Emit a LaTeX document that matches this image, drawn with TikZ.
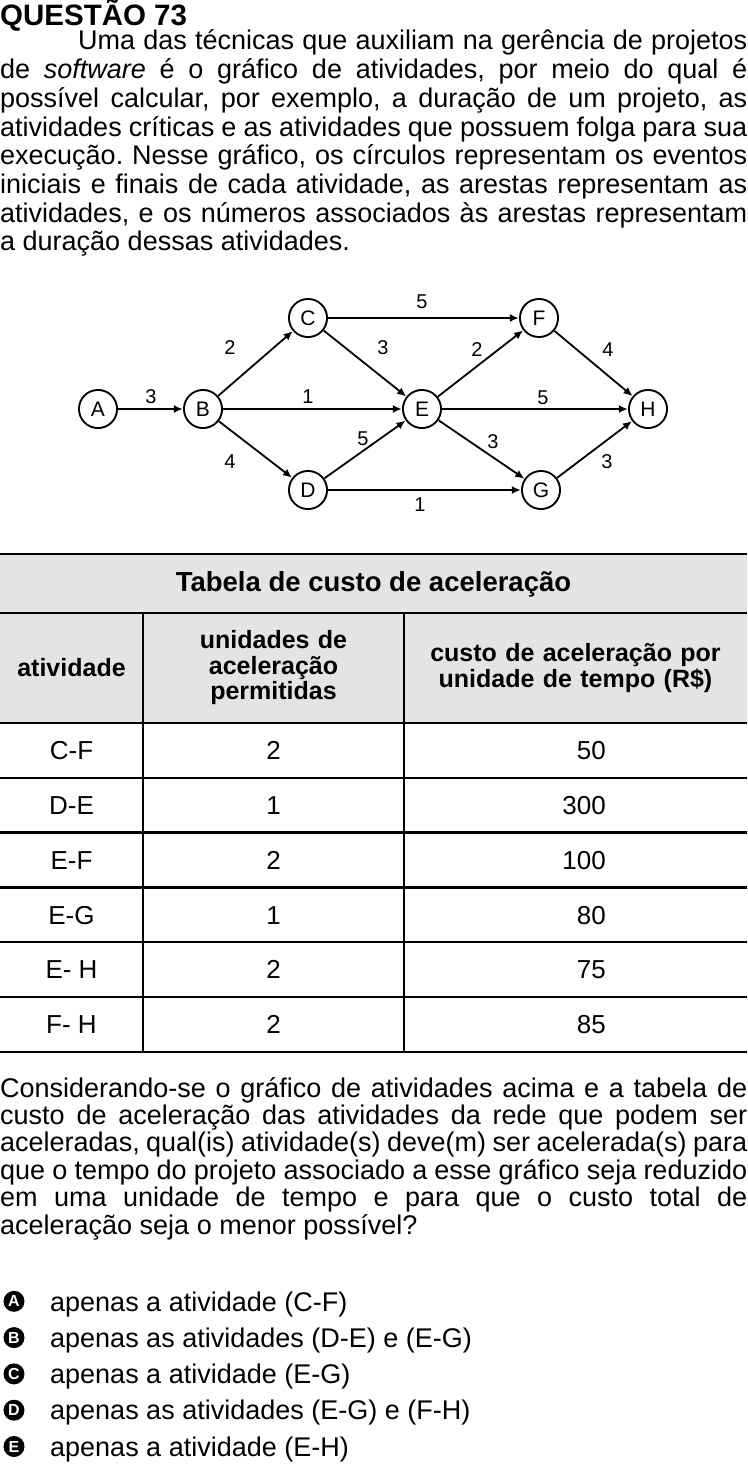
\documentclass[tikz,border=0pt]{standalone}
\usepackage{fontspec}
\setmainfont{Liberation Sans}
\usetikzlibrary{calc,arrows.meta}
\definecolor{cinza}{RGB}{228,228,228}

\tikzset{
  evento/.style={circle, fill=black, minimum size=40pt, inner sep=0pt},
  miolo/.style={circle, fill=white, minimum size=36pt, inner sep=0pt,
                font=\fontsize{21}{21}\selectfont},
  aresta/.style={line width=1.8pt, -{Latex[length=9pt,width=8pt]}},
  rotulo/.style={inner sep=0pt, font=\fontsize{20}{20}\selectfont},
  corpo/.style={anchor=base west, inner sep=0pt, text width=747pt, align=justify,
                font=\fontsize{27}{27.4}\selectfont},
  celula/.style={anchor=base, inner sep=0pt, font=\fontsize{26}{26}\selectfont},
  cabec/.style={inner sep=0pt, align=center, font=\bfseries\fontsize{25}{25}\selectfont},
  letra/.style={circle, fill=black, inner sep=0pt, minimum size=21pt, text=white,
                font=\bfseries\fontsize{16}{16}\selectfont},
  opcao/.style={anchor=base west, inner sep=0pt, font=\fontsize{27}{27}\selectfont},
}
\newcommand{\semquebra}{\frenchspacing\tolerance=10000\hyphenpenalty=10000\exhyphenpenalty=10000}

\begin{document}
\begin{tikzpicture}[x=1pt, y=-1pt]
    \useasboundingbox (0,0) rectangle (747,1466); % page size of the reference

    % enunciado
    \node[anchor=base west, inner sep=0pt, font=\bfseries\fontsize{29.5}{29.5}\selectfont]
        (titulo) at (0,26) {QUESTÃO 73};
    \node[corpo, font=\fontsize{27}{28.7}\selectfont] (texto) at (0,50)
        {\semquebra\hspace*{78pt}Uma das técnicas que auxiliam na gerência de projetos\linebreak
        de \textit{software} é o gráfico de atividades, por meio do qual é\linebreak
        possível calcular, por exemplo, a duração de um projeto, as\linebreak
        atividades críticas e as atividades que possuem folga para sua\linebreak
        execução. Nesse gráfico, os círculos representam os eventos\linebreak
        iniciais e finais de cada atividade, as arestas representam as\linebreak
        atividades, e os números associados às arestas representam\linebreak
        a duração dessas atividades.};

    % grafico de atividades: disco preto com miolo branco
    \foreach \n/\px/\py in {A/98/409, B/203/409, C/308/318, D/308/490,
        E/422/409, F/539/318, G/541/490, H/648/409}{
        \node[evento] (\n) at (\px,\py) {};
        \node[miolo] (\n in) at (\n) {\n};
    }
    \foreach \u/\v in {A/B, B/C, B/E, B/D, C/F, C/E, D/E, D/G, E/F, E/H, E/G, F/H, G/H}{
        \draw[aresta] (\u) -- (\v);
    }
    \foreach \nome/\px/\py/\dur in {AB/151/397/3, BC/230/348/2, BE/308/397/1, BD/230/462/4,
        DE/363/439/5, CE/383/348/3, CF/422/302/5, EF/477/350/2, FH/608/350/4,
        EH/543/398/5, EG/493/442/3, GH/607/462/3, DG/420/505/1}{
        \node[rotulo] (d\nome) at (\px,\py) {\dur};
    }

    % tabela
    \fill[cinza] (0,554) rectangle (747,723);
    \draw[line width=2.5pt] (0,554) -- (747,554);
    \draw[line width=2.5pt] (0,613) -- (747,613);
    \foreach \k in {0,...,6}{
        \draw[line width=2.5pt] (0,{723+54.8*\k}) -- (747,{723+54.8*\k});
    }
    \draw[line width=2.5pt] (143,613) -- (143,1052);
    \draw[line width=2.5pt] (404,613) -- (404,1052);
    \node[cabec, font=\bfseries\fontsize{27.5}{27.5}\selectfont]
        (tabtit) at (373.5,584) {Tabela de custo de aceleração};
    \node[cabec] (h1) at (71.5,668) {atividade};
    \node[cabec, text width=250pt, font=\bfseries\fontsize{25}{25.5}\selectfont]
        (h2) at (273.5,668) {unidades de\\aceleração\\permitidas};
    \node[cabec, text width=340pt, font=\bfseries\fontsize{25}{26}\selectfont]
        (h3) at (575.5,668) {custo de aceleração por\\unidade de tempo (R\$)};
    \foreach \ativ/\unid/\custo [count=\i] in {C-F/2/50, D-E/1/300, E-F/2/100,
        E-G/1/80, E- H/2/75, F- H/2/85}{
        \pgfmathsetmacro\yb{723+54.8*(\i-0.5)+9.3}
        \node[celula] (at\i) at (71.5,\yb) {\ativ};
        \node[celula] (un\i) at (273.5,\yb) {\unid};
        \node[celula, anchor=base east] (cu\i) at (606,\yb) {\custo};
    }

    % pergunta
    \node[corpo] (pergunta) at (0,1097) {\semquebra Considerando-se o gráfico de atividades acima e a tabela de\linebreak
        custo de aceleração das atividades da rede que podem ser\linebreak
        aceleradas, qual(is) atividade(s) deve(m) ser acelerada(s) para\linebreak
        que o tempo do projeto associado a esse gráfico seja reduzido\linebreak
        em uma unidade de tempo e para que o custo total de\linebreak
        aceleração seja o menor possível?};

    % alternativas
    \foreach \l/\txt [count=\i] in {A/apenas a atividade (C-F),
        B/apenas as atividades (D-E) e (E-G), C/apenas a atividade (E-G),
        D/apenas as atividades (E-G) e (F-H), E/apenas a atividade (E-H)}{
        \pgfmathsetmacro\yb{1311+36.3*(\i-1)}
        \node[letra] (m\l) at (14,\yb-9.7) {\l};
        \node[opcao] (op\l) at (50,\yb) {\txt};
    }
\end{tikzpicture}
\end{document}
